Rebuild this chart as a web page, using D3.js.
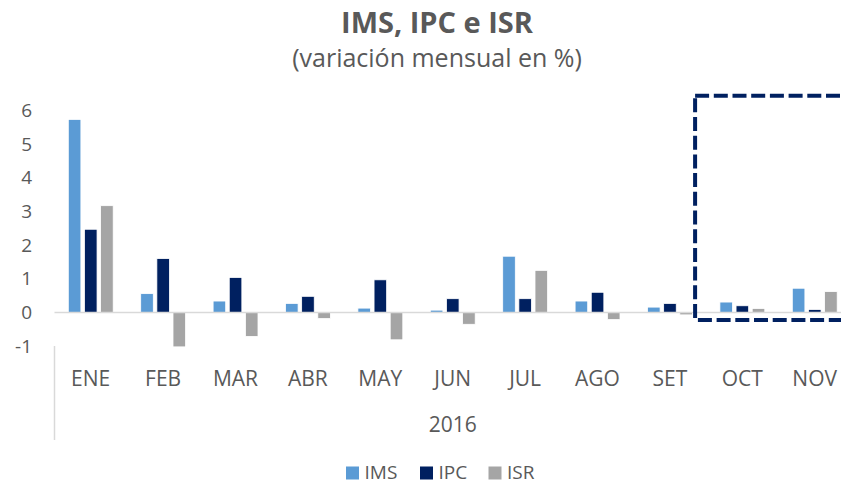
<!DOCTYPE html>
<html>
<head>
<meta charset="utf-8">
<script src="https://cdn.jsdelivr.net/npm/d3@7"></script>
<style>
  html, body { margin: 0; padding: 0; background: #fff; }
  svg { display: block; font-family: "Open Sans", "DejaVu Sans", sans-serif; }
</style>
</head>
<body>
<svg id="chart" width="841" height="484"></svg>
<script>
// ---- data ----
const categories = ["ENE", "FEB", "MAR", "ABR", "MAY", "JUN", "JUL", "AGO", "SET", "OCT", "NOV"];
const seriesNames = ["IMS", "IPC", "ISR"];
const ims = [5.73, 0.56, 0.34, 0.27, 0.13, 0.07, 1.67, 0.34, 0.16, 0.31, 0.72];
const ipc = [2.47, 1.60, 1.04, 0.48, 0.97, 0.41, 0.41, 0.60, 0.27, 0.20, 0.09];
const isr = [3.17, -1.02, -0.71, -0.18, -0.81, -0.35, 1.25, -0.21, -0.07, 0.12, 0.62];
const yTicks = [-1, 0, 1, 2, 3, 4, 5, 6];
const yearLabel = "2016";
const titleText = "IMS, IPC e ISR";
const subtitleText = "(variación mensual en %)";
const highlightStart = "OCT";
const highlightRange = [-0.22, 6.43];

const colors = { IMS: "#5B9BD5", IPC: "#002060", ISR: "#A5A5A5" };
const seriesValues = { IMS: ims, IPC: ipc, ISR: isr };

const svg = d3.select("#chart");

// ---- scales ----
const x0 = d3.scaleBand().domain(categories).range([54.5, 850.9]).paddingInner(0).paddingOuter(0);
const x1 = d3.scaleBand().domain(seriesNames).range([13.8, 58.7]).paddingInner(0.22).paddingOuter(0);
const y = d3.scaleLinear().domain([-1, 6]).range([346.2, 110.3]);

// ---- title ----
svg.append("text")
  .attr("x", 437).attr("y", 33)
  .attr("text-anchor", "middle")
  .attr("font-size", 29).attr("font-weight", "bold")
  .attr("fill", "#595959")
  .text(titleText);
svg.append("text")
  .attr("x", 437).attr("y", 67)
  .attr("text-anchor", "middle")
  .attr("font-size", 25)
  .attr("fill", "#595959")
  .text(subtitleText);

// ---- y axis labels ----
const yAxis = d3.axisLeft(y).tickValues(yTicks).tickSize(0).tickPadding(0).tickFormat(d => String(d));
const yg = svg.append("g").attr("transform", "translate(32,0)").call(yAxis);
yg.select(".domain").remove();
yg.selectAll("text")
  .attr("font-size", 19)
  .attr("font-family", "\"Open Sans\", sans-serif")
  .attr("fill", "#595959");

// ---- bars ----
const rows = categories.map((c, i) => ({ cat: c, vals: seriesNames.map(s => ({ s, v: seriesValues[s][i] })) }));
const groups = svg.append("g").selectAll("g").data(rows).join("g")
  .attr("transform", d => `translate(${x0(d.cat)},0)`);
groups.selectAll("rect").data(d => d.vals).join("rect")
  .attr("x", d => x1(d.s))
  .attr("width", x1.bandwidth())
  .attr("y", d => Math.min(y(d.v), y(0)))
  .attr("height", d => Math.abs(y(d.v) - y(0)))
  .attr("fill", d => colors[d.s])
  .attr("stroke", "#fff")
  .attr("stroke-width", 0.8);

// ---- zero line ----
svg.append("line")
  .attr("x1", x0.range()[0]).attr("x2", 841)
  .attr("y1", y(0)).attr("y2", y(0))
  .attr("stroke", "#d9d9d9").attr("stroke-width", 1.5);

// ---- category axis ----
const xAxis = d3.axisBottom(x0).tickSize(0).tickPadding(0);
const xg = svg.append("g").attr("transform", "translate(0,371)").call(xAxis);
xg.select(".domain").remove();
xg.selectAll("text")
  .attr("font-size", 21)
  .attr("font-family", "\"Open Sans\", sans-serif")
  .attr("fill", "#595959")
  .attr("dy", "0.71em")
  .attr("y", 0);

// year label centred on the full category span
svg.append("text")
  .attr("x", (x0.range()[0] + x0.range()[1]) / 2)
  .attr("y", 432)
  .attr("text-anchor", "middle")
  .attr("font-size", 21)
  .attr("fill", "#595959")
  .text(yearLabel);

// separator line of the multi-level axis
svg.append("line")
  .attr("x1", x0.range()[0]).attr("x2", x0.range()[0])
  .attr("y1", 346).attr("y2", 440)
  .attr("stroke", "#d9d9d9").attr("stroke-width", 1.5);

// ---- highlight box ----
const bx = x0(highlightStart) - 11;
svg.append("rect")
  .attr("x", bx)
  .attr("y", y(highlightRange[1]))
  .attr("width", 900 - bx)
  .attr("height", y(highlightRange[0]) - y(highlightRange[1]))
  .attr("fill", "none")
  .attr("stroke", "#002060")
  .attr("stroke-width", 4)
  .attr("stroke-dasharray", "14,4.7");

// ---- legend ----
const legendX = [346, 420, 488.5];
const lg = svg.append("g");
seriesNames.forEach((s, i) => {
  lg.append("rect")
    .attr("x", legendX[i]).attr("y", 466.5)
    .attr("width", 13).attr("height", 13)
    .attr("fill", colors[s]);
  lg.append("text")
    .attr("x", legendX[i] + 18.5).attr("y", 479)
    .attr("font-size", 19)
    .attr("fill", "#595959")
    .text(s);
});
</script>
</body>
</html>
